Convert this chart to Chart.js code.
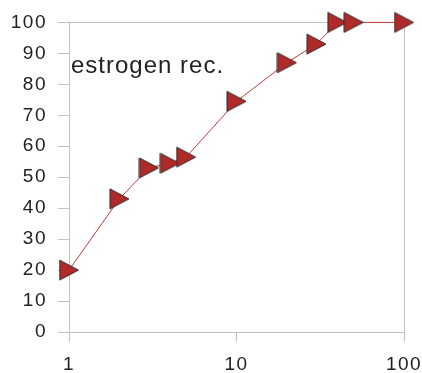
<!DOCTYPE html>
<html>
<head>
<meta charset="utf-8">
<script src="https://cdn.jsdelivr.net/npm/chart.js@4"></script>
<style>
  html, body { margin: 0; padding: 0; background: #fff; }
  #wrap { width: 422px; height: 373px; }
</style>
</head>
<body>
<div id="wrap"><canvas id="chart"></canvas></div>
<script>
const xValues = [1, 2, 3, 4, 5, 10, 20, 30, 40, 50, 100];
const yValues = [20, 43, 53, 54.5, 56.5, 74.5, 87, 93, 100, 100, 100];
const xTicks = [1, 10, 100];
const label = 'estrogen rec.';

const axisColor = '#c9c0ba';
const textColor = '#222';
const font = { family: '"Liberation Sans", Arial, sans-serif', size: 19 };

// right-pointing triangle marker, centred on its box
function makeTriangle() {
    const c = document.createElement('canvas');
    c.width = 21;
    c.height = 22;
    const g = c.getContext('2d');
    g.beginPath();
    g.moveTo(1, 1);
    g.lineTo(20, 11);
    g.lineTo(1, 21);
    g.closePath();
    g.fillStyle = '#b02a2a';
    g.fill();
    g.strokeStyle = '#2a2a2a';
    g.lineWidth = 1;
    g.stroke();
    return c;
}
const marker = makeTriangle();

const labelPlugin = {
    id: 'labelPlugin',
    beforeDraw(chart) {
        chart.ctx.letterSpacing = '1.5px';
    },
    afterDraw(chart) {
        const ctx = chart.ctx;
        ctx.save();
        ctx.font = '24px "Liberation Sans", Arial, sans-serif';
        ctx.letterSpacing = '1px';
        ctx.fillStyle = textColor;
        ctx.textBaseline = 'alphabetic';
        ctx.fillText(label, 71, 73);
        ctx.restore();
    }
};

new Chart(document.getElementById('chart'), {
    type: 'line',
    data: {
        datasets: [{
            data: xValues.map((x, i) => ({ x: x, y: yValues[i] })),
            borderColor: '#c83a3a',
            borderWidth: 1,
            pointStyle: marker,
            clip: false
        }]
    },
    options: {
        responsive: true,
        maintainAspectRatio: false,
        animation: false,
        layout: { padding: { left: 0, top: 11, right: 18, bottom: 0 } },
        plugins: {
            legend: { display: false },
            tooltip: { enabled: false }
        },
        scales: {
            x: {
                type: 'logarithmic',
                min: 1,
                max: 100,
                afterBuildTicks: axis => { axis.ticks = xTicks.map(v => ({ value: v })); },
                afterFit: axis => {
                    axis.height = 41;
                    axis.paddingLeft = 0;
                    axis.paddingRight = 0;
                },
                ticks: {
                    color: textColor,
                    font: font,
                    padding: 11,
                    maxRotation: 0,
                    callback: v => String(v)
                },
                grid: {
                    color: ctx => ctx.tick && ctx.tick.value === 100 ? axisColor : 'transparent',
                    tickColor: axisColor,
                    tickLength: 10
                },
                border: { color: axisColor }
            },
            y: {
                min: 0,
                max: 100,
                afterFit: axis => { axis.width = 69; },
                ticks: {
                    stepSize: 10,
                    color: textColor,
                    font: font,
                    padding: 11
                },
                grid: {
                    color: ctx => ctx.tick && ctx.tick.value === 100 ? axisColor : 'transparent',
                    tickColor: axisColor,
                    tickLength: 11
                },
                border: { color: axisColor }
            }
        }
    },
    plugins: [labelPlugin]
});
</script>
</body>
</html>
